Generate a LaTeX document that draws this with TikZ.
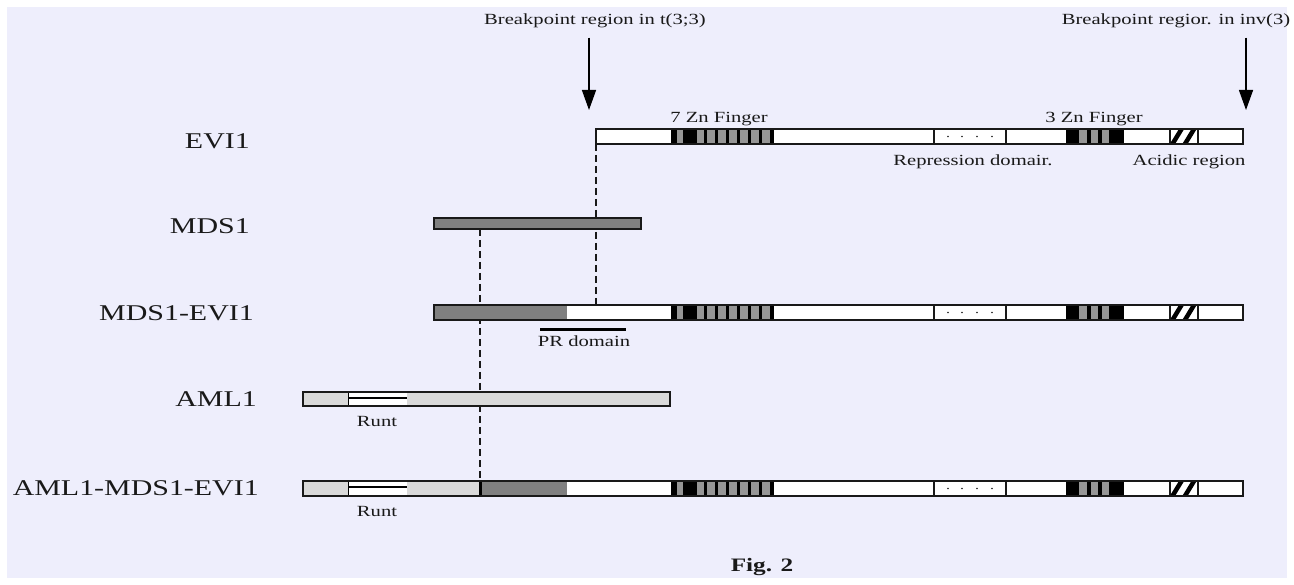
\documentclass[tikz,border=0pt]{standalone}
\usepackage{fontspec}
\setmainfont{Liberation Serif}
\usetikzlibrary{arrows.meta}
\definecolor{bgl}{RGB}{238,238,252}
\definecolor{dgray}{RGB}{128,128,128}
\definecolor{lgray}{RGB}{217,217,217}
\definecolor{zgray}{RGB}{150,150,150}
\definecolor{ink}{RGB}{25,25,25}
\newcommand\wtxt[1]{\scalebox{1.33}[1]{#1}}
% EVI1 part of a bar: #1 top, #2 bottom, #3 middle
\newcommand\eviparts[3]{%
  \fill[black] (671,#1) rectangle (774,#2);
  \foreach \a/\b in {677/683,697/704,707/715,718/726,729/737,740/748,751/759,762/770}
    {\fill[zgray] (\a,#1) rectangle (\b,#2);}
  \draw[ink, line width=1.2pt] (934,#1) -- (934,#2) (1006,#1) -- (1006,#2);
  \foreach \d in {948,962,977,992} {\fill[ink] (\d,#3) circle[radius=0.9pt];}
  \fill[black] (1066,#1) rectangle (1124,#2);
  \foreach \a/\b in {1079/1087,1091/1098,1102/1109}
    {\fill[zgray] (\a,#1) rectangle (\b,#2);}
  \begin{scope}
    \clip (1170,#1) rectangle (1198,#2);
    \draw[black, line width=4.5pt] (1170,#2+4) -- (1184,#1-4) (1182.5,#2+4) -- (1196.5,#1-4);
  \end{scope}
  \draw[ink, line width=1.2pt] (1170,#1) -- (1170,#2) (1198,#1) -- (1198,#2);
}
\begin{document}
\begin{tikzpicture}[x=1pt,y=-1pt,
  bar/.style={draw=ink, line width=1.2pt, rectangle, inner sep=0pt, outer sep=0pt, anchor=north west},
  rowlabel/.style={anchor=east, inner sep=0pt, text=ink, font=\fontsize{22.5}{24}\selectfont},
  small/.style={inner sep=0pt, text=ink, font=\fontsize{15.5}{17}\selectfont},
  dash line/.style={draw=ink, line width=1.5pt, dash pattern=on 7pt off 4pt},
  arr/.style={draw=black, line width=1.4pt, -{Triangle[width=14pt,length=20pt]}},
  outline/.style={draw=ink, line width=1.2pt}]

\fill[white] (0,0) rectangle (1294,585);
\fill[bgl] (7,7) rectangle (1287,578);
\useasboundingbox (0,0) rectangle (1294,585);

% top labels and arrows
\node[small, anchor=base] (bp1) at (595,25) {\wtxt{Breakpoint region in t(3;3)}};
\node[small, anchor=base] (bp2) at (1176,25) {\wtxt{Breakpoint regior. in inv(3)}};
\coordinate (tip1) at (589,110);
\coordinate (tip2) at (1246,110);
\draw[arr] ([yshift=-9pt]bp1.south -| tip1) -- (tip1);
\draw[arr] ([yshift=-9pt]bp2.south -| tip2) -- (tip2);

% dashed guide lines (behind bars)
\coordinate (d1top) at (596,144);
\coordinate (d1bot) at (596,305);
\coordinate (d2top) at (480,229);
\coordinate (d2bot) at (480,481);
\draw[dash line] (d1top) -- (d1bot);
\draw[dash line] (d2top) -- (d2bot);

% row labels
\node[rowlabel] (lEVI) at (250,141) {\wtxt{EVI1}};
\node[rowlabel] (lMDS) at (250,226) {\wtxt{MDS1}};
\node[rowlabel] (lME) at (254,313) {\wtxt{MDS1-EVI1}};
\node[rowlabel] (lAML) at (257,399) {\wtxt{AML1}};
\node[rowlabel] (lAME) at (259,488) {\wtxt{AML1-MDS1-EVI1}};

% EVI1
\node[bar, fill=white, minimum width=647pt, minimum height=15pt] (evi) at (596,129) {};
\eviparts{129}{144}{136.5}
\draw[outline] (evi.north west) rectangle (evi.south east);
\node[small, anchor=base] (zn7) at (719,123) {\wtxt{7 Zn Finger}};
\node[small, anchor=base] (zn3) at (1094,123) {\wtxt{3 Zn Finger}};
\node[small, anchor=base] (rep) at (973,166) {\wtxt{Repression domair.}};
\node[small, anchor=base] (acid) at (1189,166) {\wtxt{Acidic region}};

% MDS1
\node[bar, fill=dgray, minimum width=207pt, minimum height=11pt] (mds) at (434,218) {};

% MDS1-EVI1
\node[bar, fill=white, minimum width=809pt, minimum height=15pt] (me) at (434,305) {};
\fill[dgray] (434,305) rectangle (567,320);
\eviparts{305}{320}{312.5}
\draw[outline] (me.north west) rectangle (me.south east);
\coordinate (pr1) at (540,329.5);
\coordinate (pr2) at (626,329.5);
\draw[black, line width=3pt] (pr1) -- (pr2);
\node[small, anchor=base] (prl) at (584,347) {\wtxt{PR domain}};

% AML1
\node[bar, fill=lgray, minimum width=367pt, minimum height=14pt] (aml) at (303,392) {};
\fill[white] (348,392) rectangle (406.5,406);
\draw[black, line width=2.5pt] (348,398) -- (406.5,398);
\draw[black, line width=1.5pt] (348.5,392) -- (348.5,406);
\draw[outline] (aml.north west) rectangle (aml.south east);
\node[small, anchor=base] (runt1) at (377,426) {\wtxt{Runt}};

% AML1-MDS1-EVI1
\node[bar, fill=white, minimum width=940pt, minimum height=15pt] (ame) at (303,481) {};
\fill[lgray] (303,481) rectangle (479,496);
\fill[dgray] (481,481) rectangle (567,496);
\fill[black] (478.5,481) rectangle (481.5,496);
\fill[white] (348,481) rectangle (406.5,496);
\draw[black, line width=2.5pt] (348,487) -- (406.5,487);
\draw[black, line width=1.5pt] (348.5,481) -- (348.5,496);
\eviparts{481}{496}{488.5}
\draw[outline] (ame.north west) rectangle (ame.south east);
\node[small, anchor=base] (runt2) at (377,516) {\wtxt{Runt}};

% caption
\node[inner sep=0pt, anchor=base, text=ink, font=\fontsize{19}{21}\selectfont\bfseries] (fig) at (762,571) {\wtxt{Fig. 2}};
\end{tikzpicture}
\end{document}
